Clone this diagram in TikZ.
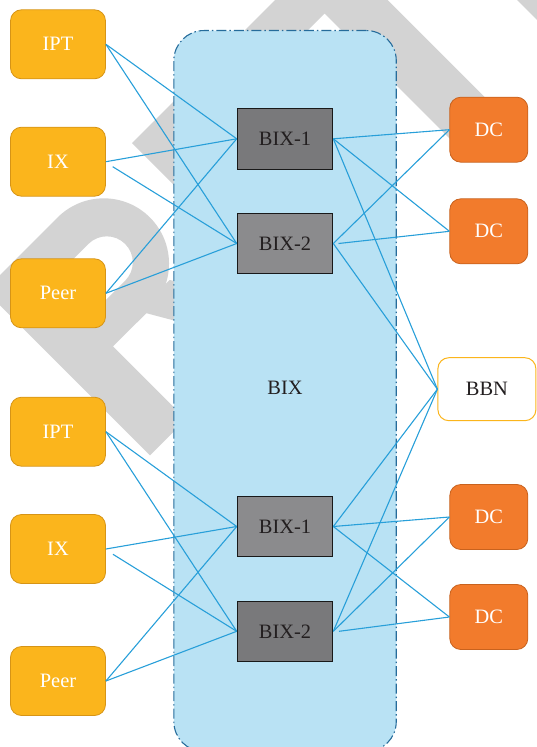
\documentclass[tikz,border=0pt]{standalone}
\usepackage{fontspec}
\setmainfont{Liberation Serif}
\definecolor{wmgray}{RGB}{211,211,211}
\definecolor{yfill}{RGB}{251,181,28}
\definecolor{ybord}{RGB}{214,148,22}
\definecolor{ofill}{RGB}{242,123,44}
\definecolor{obord}{RGB}{200,98,30}
\definecolor{bixfill}{RGB}{185,226,244}
\definecolor{bixbord}{RGB}{38,108,155}
\definecolor{linkc}{RGB}{40,159,217}
\definecolor{gdark}{RGB}{121,121,123}
\definecolor{glight}{RGB}{139,139,141}
\definecolor{txtd}{RGB}{35,31,32}
\begin{document}
\begin{tikzpicture}[x=1bp,y=-1bp,
  lbl/.style={font=\fontsize{20.5}{24}\selectfont},
  ynode/.style={lbl, draw=ybord, fill=yfill, line width=0.8bp, rounded corners=11bp, minimum width=95bp, minimum height=69bp, inner sep=0pt, text=white},
  dcnode/.style={lbl, draw=obord, fill=ofill, line width=0.8bp, rounded corners=11bp, minimum width=78bp, minimum height=65bp, inner sep=0pt, text=white},
  bbnnode/.style={lbl, draw=yfill, fill=white, line width=1bp, rounded corners=11bp, minimum width=98bp, minimum height=63bp, inner sep=0pt, text=txtd},
  bixbox/.style={lbl, draw=black!90, line width=1bp, minimum width=95.6bp, minimum height=60.4bp, inner sep=0pt, text=txtd},
  container/.style={draw=bixbord, fill=bixfill, line width=1.1bp, rounded corners=30bp, dash pattern=on 10bp off 3bp on 1.5bp off 3bp, minimum width=222.4bp, minimum height=721bp, inner sep=0pt},
  link/.style={draw=linkc, line width=1.1bp},
  wm/.style={fill=wmgray}
]
\useasboundingbox (0,0) rectangle (537,747);

% watermark (drawn in rotated letter coordinates)
\begin{scope}[x=1bp,y=1bp,rotate=45]
  \fill[wm, even odd rule] (-216,-428) -- (-216,-194.5) -- (-113,-194.5)
      arc[start angle=90,end angle=-90,radius=65.25] -- (-165,-324.75) -- (-165,-428) -- cycle
      (-165,-235) -- (-110,-235) arc[start angle=90,end angle=-90,radius=26] -- (-165,-287) -- cycle;
  \fill[wm] (-122,-318) -- (-78,-318) -- (-8,-428) -- (-58,-428) -- cycle;
  \fill[wm] (-7.8,-428) -- (-7.8,-194.5) -- (274,-194.5) -- (274,-428) -- (220,-428)
      -- (220,-239) -- (40,-239) -- (40,-428) -- cycle;
  \fill[wm] (365.6,-428) rectangle (416,-194.5);
\end{scope}

\node[container, anchor=north west] (cont) at (173.3,30) {};
\node[lbl, text=txtd] (bixlbl) at (285,388) {BIX};

\node[ynode] (ipt1) at (58,44.3) {IPT};
\node[ynode] (ix1) at (58,161.7) {IX};
\node[ynode] (peer1) at (58,293.3) {Peer};
\node[ynode] (ipt2) at (58,431.7) {IPT};
\node[ynode] (ix2) at (58,549) {IX};
\node[ynode] (peer2) at (58,681) {Peer};

\node[dcnode] (dc1) at (488.8,129.7) {DC};
\node[dcnode] (dc2) at (488.8,231.3) {DC};
\node[dcnode] (dc3) at (488.8,517) {DC};
\node[dcnode] (dc4) at (488.8,617) {DC};
\node[bbnnode] (bbn) at (486.9,389.2) {BBN};

\node[bixbox, fill=gdark] (b11) at (285,138.8) {BIX-1};
\node[bixbox, fill=glight] (b12) at (285,243.5) {BIX-2};
\node[bixbox, fill=glight] (b21) at (285,526.5) {BIX-1};
\node[bixbox, fill=gdark] (b22) at (285,631.3) {BIX-2};

\coordinate (ixa) at (112.7,166.7);
\coordinate (ixb) at (113,554.3);
\coordinate (b12r) at (338.5,243.5);
\coordinate (b22r) at (339,631.3);

% upper group
\draw[link] (ipt1.east) -- (b11.west);
\draw[link] (ipt1.east) -- (b12.west);
\draw[link] (ix1.east) -- (b11.west);
\draw[link] (ixa) -- (b12.west);
\draw[link] (peer1.east) -- (b11.west);
\draw[link] (peer1.east) -- (b12.west);
\draw[link] (b11.east) -- (dc1.west);
\draw[link] (b11.east) -- (dc2.west);
\draw[link] (b11.east) -- (bbn.west);
\draw[link] (b12.east) -- (dc1.west);
\draw[link] (b12r) -- (dc2.west);
\draw[link] (b12.east) -- (bbn.west);
% lower group
\draw[link] (ipt2.east) -- (b21.west);
\draw[link] (ipt2.east) -- (b22.west);
\draw[link] (ix2.east) -- (b21.west);
\draw[link] (ixb) -- (b22.west);
\draw[link] (peer2.east) -- (b21.west);
\draw[link] (peer2.east) -- (b22.west);
\draw[link] (b21.east) -- (dc3.west);
\draw[link] (b21.east) -- (dc4.west);
\draw[link] (b21.east) -- (bbn.west);
\draw[link] (b22.east) -- (dc3.west);
\draw[link] (b22r) -- (dc4.west);
\draw[link] (b22.east) -- (bbn.west);
\end{tikzpicture}
\end{document}
